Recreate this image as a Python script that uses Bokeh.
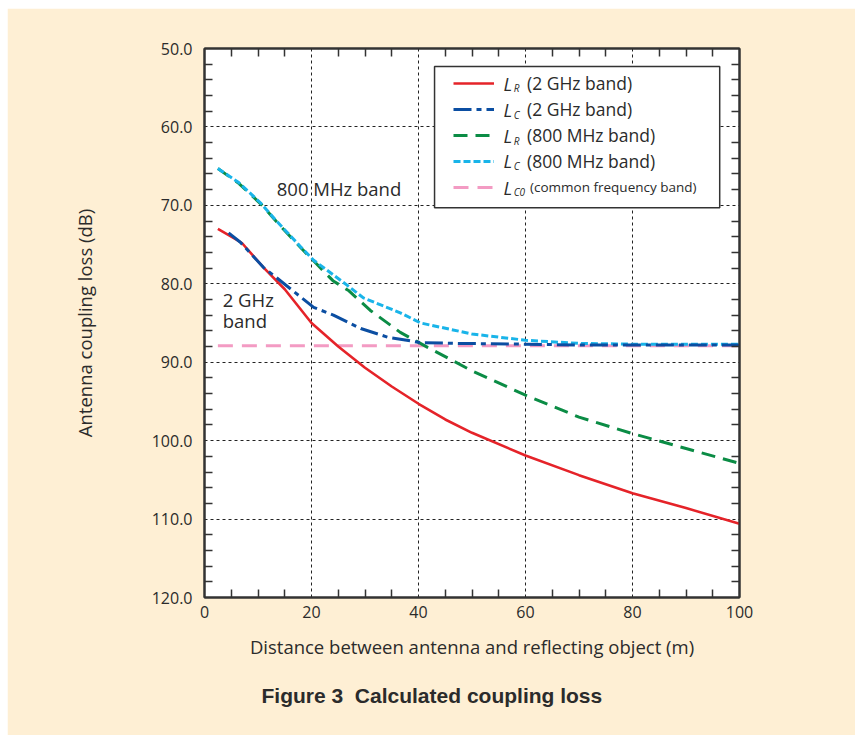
from bokeh.plotting import figure
from bokeh.models import (Range1d, FixedTicker, LinearAxis, PrintfTickFormatter, Legend, LegendItem,
                          BoxAnnotation, Label, Title)
from bokeh.embed import file_html
from bokeh.resources import INLINE

# ---- data ----
lr2_x = [2.5, 5, 7, 11, 15, 20, 25, 30, 35, 40, 45, 50, 60, 70, 80, 90, 100]
lr2_y = [73.0, 74.0, 74.8, 77.9, 80.7, 85.0, 88.0, 90.7, 93.1, 95.3, 97.3, 99.0, 101.9, 104.4, 106.7, 108.6, 110.6]

lc2_x = [4.5, 6.7, 11, 13.6, 20.4, 24.1, 29.2, 34.2, 40.4, 47.3, 60, 70, 80, 90, 100]
lc2_y = [73.5, 74.7, 77.9, 79.3, 83.0, 84.0, 85.7, 86.8, 87.5, 87.6, 87.7, 87.8, 87.8, 87.8, 87.8]

lr8_x = [2.5, 6.4, 10.5, 13.6, 18, 20, 24, 27, 31, 36.6, 41.7, 50, 60, 70, 80, 90, 100]
lr8_y = [65.3, 67.2, 69.8, 72.2, 75.4, 76.8, 79.6, 80.9, 83.4, 86.2, 88.1, 91.1, 94.2, 97.0, 99.1, 101.0, 102.9]

lc8_x = [2.5, 6.4, 10.5, 13.6, 18, 20.4, 26.7, 29.7, 36.6, 40.4, 50, 60, 70, 80, 90, 100]
lc8_y = [65.3, 67.1, 69.7, 72.1, 75.3, 77.0, 80.2, 81.8, 83.7, 85.0, 86.4, 87.2, 87.6, 87.7, 87.7, 87.7]

lc0_x = [2.5, 100]
lc0_y = [87.9, 87.9]

x_ticks = [0, 20, 40, 60, 80, 100]
y_ticks = [50, 60, 70, 80, 90, 100, 110, 120]
x_minor = [v for v in range(0, 101, 5) if v % 20 != 0]
y_minor = [v for v in range(50, 121, 2) if v % 10 != 0]

legend_texts = ["(2 GHz band)", "(2 GHz band)", "(800 MHz band)", "(800 MHz band)", "(common frequency band)"]
legend_subs = ["R", "C", "R", "C", "C0"]

CREAM = "#FEEFD4"
INK = "#2B2B2B"
FONT = "Open Sans"

p = figure(width=848, height=727, output_backend="svg", toolbar_location=None,
           x_range=Range1d(0, 100), y_range=Range1d(120, 50),
           min_border_left=197, min_border_right=116, min_border_top=40, min_border_bottom=138,
           x_axis_location=None, y_axis_location=None)
p.margin = (8, 0, 0, 7)
p.border_fill_color = CREAM
p.background_fill_color = "white"
p.outline_line_color = "#333333"
p.outline_line_width = 2

def style_axis(ax):
    ax.axis_line_color = "#333333"
    ax.axis_line_width = 2
    ax.major_tick_in = 0
    ax.major_tick_out = 0
    ax.minor_tick_in = 8
    ax.minor_tick_out = 0
    ax.minor_tick_line_color = "#333333"
    ax.minor_tick_line_width = 1.5
    ax.major_label_text_font = FONT
    ax.major_label_text_font_size = "16px"
    ax.major_label_text_color = INK
    ax.axis_label_text_font = FONT
    ax.axis_label_text_font_size = "18.5px"
    ax.axis_label_text_font_style = "normal"
    ax.axis_label_text_color = INK

xb = LinearAxis(ticker=FixedTicker(ticks=x_ticks, minor_ticks=x_minor),
                axis_label="Distance between antenna and reflecting object (m)")
style_axis(xb)
xb.major_label_standoff = 8
xb.axis_label_standoff = 13
p.add_layout(xb, "below")

yl = LinearAxis(ticker=FixedTicker(ticks=y_ticks, minor_ticks=y_minor),
                formatter=PrintfTickFormatter(format="%.1f"),
                axis_label="Antenna coupling loss (dB)")
style_axis(yl)
yl.major_label_standoff = 12
yl.axis_label_standoff = 52
p.add_layout(yl, "left")

xt = LinearAxis(ticker=FixedTicker(ticks=[], minor_ticks=x_minor))
style_axis(xt)
p.add_layout(xt, "above")
yr = LinearAxis(ticker=FixedTicker(ticks=[], minor_ticks=y_minor))
style_axis(yr)
p.add_layout(yr, "right")

# grid
p.xgrid.ticker = FixedTicker(ticks=x_ticks)
p.ygrid.ticker = FixedTicker(ticks=y_ticks)
for g in (p.xgrid, p.ygrid):
    g.grid_line_color = "#222222"
    g.grid_line_dash = "3 3"
    g.grid_line_width = 1

# series
r_lc0 = p.line(lc0_x, lc0_y, line_color="#F39BC3", line_width=3, line_dash="15 9")
r_lr8 = p.line(lr8_x, lr8_y, line_color="#0B8C45", line_width=3, line_dash="14 8")
r_lc8 = p.line(lc8_x, lc8_y, line_color="#19B4E9", line_width=3, line_dash="7 3")
r_lr2 = p.line(lr2_x, lr2_y, line_color="#E52329", line_width=2.6)
r_lc2 = p.line(lc2_x, lc2_y, line_color="#0B4EA2", line_width=3, line_dash="18 5 5 5")

# in-plot annotations
for txt, x, y in [("800 MHz band", 13.5, 67.85), ("2 GHz", 3.4, 82.0), ("band", 3.4, 84.7)]:
    p.add_layout(Label(x=x, y=y, text=txt, text_font=FONT, text_font_size="18.5px",
                       text_color=INK, text_baseline="middle", text_align="left"))

# legend box
p.add_layout(BoxAnnotation(left=43.0, right=96.3, top=52.3, bottom=70.3,
                           fill_color="white", fill_alpha=1, line_color="#333333",
                           line_width=1.5, line_alpha=1))

legA = Legend(items=[LegendItem(label=legend_texts[0], renderers=[r_lr2]),
                     LegendItem(label=legend_texts[1], renderers=[r_lc2]),
                     LegendItem(label=legend_texts[2], renderers=[r_lr8]),
                     LegendItem(label=legend_texts[3], renderers=[r_lc8])],
              location=(249, 423))
legB = Legend(items=[LegendItem(label=legend_texts[4], renderers=[r_lc0])],
              location=(249, 397))
for lg, fs, so in ((legA, "17.5px", 33), (legB, "13.5px", 36)):
    lg.padding = 0
    lg.margin = 0
    lg.spacing = 0
    lg.glyph_width = 41
    lg.glyph_height = 26
    lg.label_height = 20
    lg.label_standoff = so
    lg.label_text_font = FONT
    lg.label_text_font_size = fs
    lg.label_text_color = INK
    lg.label_text_baseline = "middle"
    lg.background_fill_alpha = 0
    lg.border_line_alpha = 0
    p.add_layout(lg, "center")

row_y = [54.5, 57.9, 61.2, 64.4, 67.8]
for yy, sub in zip(row_y, legend_subs):
    p.add_layout(Label(x=55.9, y=yy, text="L", text_font=FONT, text_font_size="18px",
                       text_font_style="italic", text_color=INK, text_baseline="middle"))
    p.add_layout(Label(x=57.8, y=yy + 0.55, text=sub, text_font=FONT, text_font_size="10px",
                       text_font_style="italic", text_color=INK, text_baseline="middle"))

# caption
cap = Title(text="Figure 3\u00a0\u00a0Calculated coupling loss", align="left", offset=57,
            text_font="Liberation Sans", text_font_size="21px", text_font_style="bold",
            text_color=INK, standoff=41)
p.add_layout(cap, "below")

open("out.html", "w").write(file_html(p, INLINE))
